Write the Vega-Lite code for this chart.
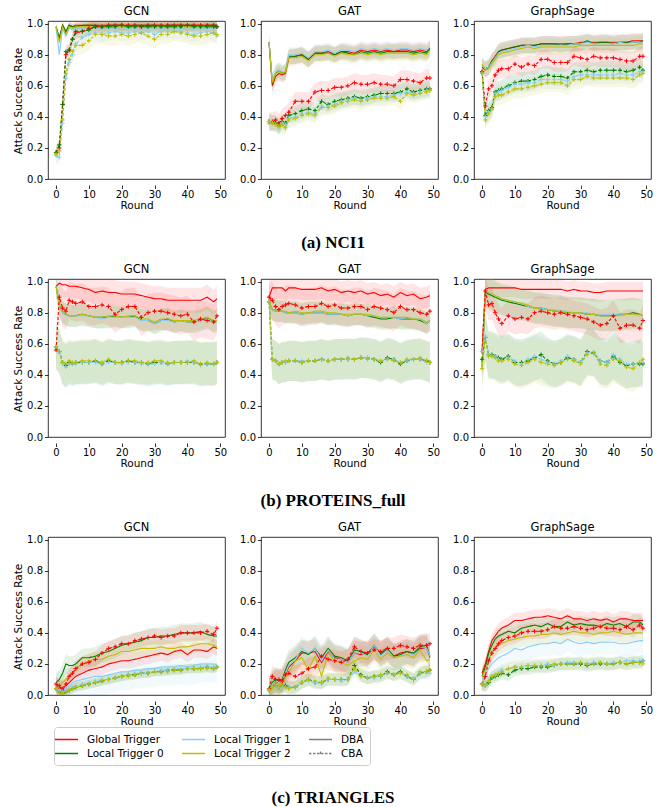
{
"$schema":"https://vega.github.io/schema/vega-lite/v6.json",
"background":"white",
"padding":{"left":13,"top":5,"right":5,"bottom":5},
"datasets":{
"xs":[{"i":1,"x":0},{"i":2,"x":1},{"i":3,"x":2},{"i":4,"x":3},{"i":5,"x":4},{"i":6,"x":5},{"i":7,"x":6},{"i":8,"x":8},{"i":9,"x":10},{"i":10,"x":12},{"i":11,"x":14},{"i":12,"x":16},{"i":13,"x":18},{"i":14,"x":20},{"i":15,"x":22},{"i":16,"x":24},{"i":17,"x":26},{"i":18,"x":28},{"i":19,"x":30},{"i":20,"x":32},{"i":21,"x":34},{"i":22,"x":36},{"i":23,"x":38},{"i":24,"x":40},{"i":25,"x":42},{"i":26,"x":44},{"i":27,"x":46},{"i":28,"x":48},{"i":29,"x":49}],
"L":[
{"d":"NCI1","m":"GCN","t":"Global Trigger","a":"DBA","e":0.02,"y":[0.98,0.90,0.99,0.94,0.99,0.98,0.99,0.99,0.99,0.99,0.99,0.99,0.99,0.99,0.99,0.99,0.99,0.99,0.99,0.99,0.99,0.99,0.99,0.99,0.99,0.99,0.99,0.99,0.99]},
{"d":"NCI1","m":"GCN","t":"Local Trigger 0","a":"DBA","e":0.02,"y":[0.98,0.91,0.99,0.95,0.99,0.98,0.98,0.99,0.99,0.99,0.98,0.99,0.99,0.99,0.98,0.99,0.99,0.99,0.99,0.98,0.99,0.99,0.99,0.99,0.99,0.98,0.99,0.99,0.99]},
{"d":"NCI1","m":"GCN","t":"Local Trigger 1","a":"DBA","e":0.03,"y":[0.97,0.80,0.97,0.92,0.97,0.96,0.97,0.97,0.97,0.97,0.96,0.97,0.97,0.96,0.97,0.97,0.96,0.97,0.97,0.97,0.96,0.97,0.97,0.96,0.97,0.97,0.97,0.97,0.97]},
{"d":"NCI1","m":"GCN","t":"Local Trigger 2","a":"DBA","e":0.03,"y":[0.98,0.88,0.98,0.93,0.98,0.97,0.98,0.98,0.98,0.98,0.98,0.98,0.98,0.98,0.98,0.98,0.98,0.98,0.98,0.98,0.98,0.98,0.98,0.98,0.98,0.98,0.98,0.98,0.98]},
{"d":"NCI1","m":"GCN","t":"Global Trigger","a":"CBA","e":0.04,"y":[0.17,0.20,0.48,0.80,0.83,0.90,0.94,0.95,0.97,0.98,0.98,0.99,0.99,0.99,0.99,0.99,0.98,0.99,0.99,0.99,0.99,0.99,0.99,0.99,0.99,0.99,0.99,0.99,0.98]},
{"d":"NCI1","m":"GCN","t":"Local Trigger 0","a":"CBA","e":0.04,"y":[0.17,0.22,0.48,0.82,0.83,0.90,0.95,0.95,0.96,0.98,0.98,0.98,0.98,0.99,0.98,0.98,0.98,0.98,0.98,0.98,0.98,0.98,0.98,0.99,0.98,0.98,0.98,0.98,0.98]},
{"d":"NCI1","m":"GCN","t":"Local Trigger 1","a":"CBA","e":0.05,"y":[0.15,0.14,0.36,0.65,0.75,0.80,0.87,0.91,0.93,0.94,0.93,0.94,0.95,0.94,0.94,0.95,0.94,0.95,0.93,0.95,0.95,0.95,0.95,0.94,0.93,0.94,0.95,0.94,0.92]},
{"d":"NCI1","m":"GCN","t":"Local Trigger 2","a":"CBA","e":0.06,"y":[0.16,0.18,0.38,0.68,0.77,0.82,0.86,0.86,0.89,0.93,0.93,0.92,0.92,0.93,0.92,0.93,0.94,0.92,0.90,0.93,0.93,0.95,0.94,0.93,0.92,0.92,0.93,0.94,0.93]},
{"d":"NCI1","m":"GAT","t":"Global Trigger","a":"DBA","e":0.05,"y":[0.88,0.60,0.66,0.68,0.67,0.68,0.78,0.79,0.80,0.77,0.81,0.81,0.82,0.80,0.82,0.82,0.81,0.83,0.82,0.83,0.82,0.83,0.82,0.83,0.83,0.82,0.83,0.82,0.84]},
{"d":"NCI1","m":"GAT","t":"Local Trigger 0","a":"DBA","e":0.05,"y":[0.88,0.62,0.68,0.70,0.68,0.69,0.79,0.79,0.80,0.77,0.81,0.81,0.81,0.80,0.82,0.81,0.80,0.82,0.81,0.82,0.81,0.82,0.82,0.82,0.82,0.81,0.82,0.81,0.84]},
{"d":"NCI1","m":"GAT","t":"Local Trigger 1","a":"DBA","e":0.05,"y":[0.88,0.63,0.69,0.70,0.69,0.69,0.80,0.80,0.81,0.78,0.82,0.82,0.83,0.81,0.83,0.83,0.82,0.84,0.83,0.84,0.83,0.84,0.83,0.84,0.84,0.83,0.84,0.83,0.85]},
{"d":"NCI1","m":"GAT","t":"Local Trigger 2","a":"DBA","e":0.05,"y":[0.88,0.62,0.68,0.69,0.68,0.69,0.78,0.78,0.79,0.76,0.80,0.80,0.81,0.79,0.81,0.80,0.80,0.81,0.80,0.81,0.80,0.81,0.81,0.81,0.81,0.80,0.81,0.80,0.83]},
{"d":"NCI1","m":"GAT","t":"Global Trigger","a":"CBA","e":0.06,"y":[0.37,0.37,0.38,0.36,0.39,0.41,0.43,0.50,0.50,0.50,0.56,0.57,0.57,0.59,0.59,0.60,0.62,0.61,0.61,0.62,0.61,0.61,0.60,0.64,0.64,0.63,0.62,0.65,0.65]},
{"d":"NCI1","m":"GAT","t":"Local Trigger 0","a":"CBA","e":0.05,"y":[0.37,0.36,0.36,0.34,0.37,0.36,0.41,0.42,0.44,0.45,0.44,0.50,0.48,0.50,0.51,0.52,0.53,0.52,0.53,0.54,0.55,0.55,0.55,0.56,0.58,0.56,0.57,0.58,0.58]},
{"d":"NCI1","m":"GAT","t":"Local Trigger 1","a":"CBA","e":0.05,"y":[0.37,0.36,0.35,0.33,0.36,0.35,0.39,0.40,0.42,0.43,0.42,0.47,0.47,0.48,0.50,0.51,0.52,0.51,0.52,0.53,0.53,0.53,0.54,0.55,0.56,0.55,0.56,0.57,0.57]},
{"d":"NCI1","m":"GAT","t":"Local Trigger 2","a":"CBA","e":0.05,"y":[0.36,0.36,0.35,0.34,0.35,0.33,0.38,0.39,0.41,0.42,0.41,0.46,0.46,0.47,0.49,0.50,0.51,0.50,0.51,0.52,0.52,0.52,0.53,0.50,0.55,0.54,0.55,0.56,0.57]},
{"d":"NCI1","m":"GraphSage","t":"Global Trigger","a":"DBA","e":0.05,"y":[0.72,0.70,0.72,0.76,0.79,0.82,0.83,0.84,0.85,0.86,0.86,0.86,0.87,0.87,0.87,0.87,0.87,0.87,0.88,0.88,0.88,0.88,0.88,0.88,0.88,0.88,0.89,0.89,0.89]},
{"d":"NCI1","m":"GraphSage","t":"Local Trigger 0","a":"DBA","e":0.05,"y":[0.73,0.71,0.72,0.76,0.78,0.82,0.83,0.84,0.85,0.86,0.86,0.86,0.87,0.87,0.87,0.86,0.87,0.87,0.87,0.89,0.87,0.88,0.88,0.87,0.88,0.88,0.88,0.88,0.89]},
{"d":"NCI1","m":"GraphSage","t":"Local Trigger 1","a":"DBA","e":0.05,"y":[0.73,0.71,0.72,0.75,0.78,0.81,0.82,0.83,0.84,0.85,0.86,0.85,0.86,0.86,0.86,0.86,0.86,0.87,0.87,0.88,0.87,0.87,0.87,0.87,0.88,0.87,0.88,0.88,0.88]},
{"d":"NCI1","m":"GraphSage","t":"Local Trigger 2","a":"DBA","e":0.05,"y":[0.74,0.70,0.71,0.74,0.77,0.80,0.81,0.82,0.83,0.84,0.85,0.84,0.85,0.85,0.85,0.85,0.85,0.85,0.86,0.86,0.86,0.86,0.86,0.86,0.86,0.86,0.86,0.87,0.87]},
{"d":"NCI1","m":"GraphSage","t":"Global Trigger","a":"CBA","e":0.06,"y":[0.69,0.47,0.58,0.60,0.67,0.70,0.71,0.71,0.74,0.72,0.74,0.73,0.77,0.77,0.75,0.75,0.75,0.79,0.78,0.77,0.79,0.78,0.78,0.78,0.77,0.76,0.76,0.79,0.79]},
{"d":"NCI1","m":"GraphSage","t":"Local Trigger 0","a":"CBA","e":0.06,"y":[0.69,0.41,0.44,0.46,0.56,0.57,0.58,0.60,0.62,0.63,0.63,0.64,0.66,0.67,0.66,0.66,0.65,0.69,0.69,0.70,0.69,0.70,0.70,0.70,0.70,0.69,0.70,0.72,0.70]},
{"d":"NCI1","m":"GraphSage","t":"Local Trigger 1","a":"CBA","e":0.06,"y":[0.68,0.40,0.43,0.45,0.55,0.56,0.57,0.59,0.61,0.61,0.62,0.62,0.64,0.64,0.64,0.64,0.63,0.66,0.67,0.67,0.67,0.67,0.67,0.67,0.68,0.67,0.67,0.69,0.69]},
{"d":"NCI1","m":"GraphSage","t":"Local Trigger 2","a":"CBA","e":0.06,"y":[0.68,0.38,0.42,0.45,0.53,0.54,0.54,0.56,0.58,0.58,0.59,0.60,0.61,0.62,0.62,0.62,0.60,0.64,0.64,0.66,0.65,0.65,0.65,0.65,0.65,0.65,0.64,0.67,0.68]},
{"d":"PROTEINS","m":"GCN","t":"Global Trigger","a":"DBA","e":0.08,"y":[0.97,0.99,0.98,0.98,0.97,0.97,0.97,0.96,0.95,0.93,0.94,0.93,0.93,0.92,0.92,0.92,0.91,0.90,0.89,0.89,0.88,0.88,0.88,0.88,0.88,0.88,0.90,0.87,0.89]},
{"d":"PROTEINS","m":"GCN","t":"Local Trigger 0","a":"DBA","e":0.07,"y":[0.97,0.85,0.80,0.79,0.78,0.78,0.78,0.79,0.78,0.77,0.77,0.77,0.78,0.77,0.77,0.78,0.75,0.75,0.73,0.75,0.76,0.74,0.75,0.74,0.74,0.75,0.77,0.74,0.75]},
{"d":"PROTEINS","m":"GCN","t":"Local Trigger 1","a":"DBA","e":0.07,"y":[0.97,0.85,0.80,0.78,0.78,0.78,0.78,0.78,0.78,0.77,0.76,0.77,0.77,0.77,0.77,0.77,0.75,0.75,0.73,0.75,0.75,0.74,0.75,0.74,0.74,0.75,0.76,0.74,0.74]},
{"d":"PROTEINS","m":"GCN","t":"Local Trigger 2","a":"DBA","e":0.07,"y":[0.97,0.86,0.81,0.79,0.78,0.78,0.78,0.79,0.78,0.77,0.77,0.78,0.78,0.77,0.78,0.78,0.76,0.76,0.74,0.76,0.76,0.75,0.75,0.75,0.75,0.76,0.77,0.75,0.75]},
{"d":"PROTEINS","m":"GCN","t":"Global Trigger","a":"CBA","e":0.12,"y":[0.56,0.90,0.83,0.81,0.88,0.87,0.86,0.87,0.84,0.84,0.85,0.84,0.79,0.82,0.84,0.84,0.77,0.80,0.81,0.81,0.80,0.79,0.78,0.79,0.74,0.76,0.75,0.74,0.78]},
{"d":"PROTEINS","m":"GCN","t":"Local Trigger 0","a":"CBA","e":0.14,"y":[0.58,0.55,0.48,0.46,0.48,0.47,0.48,0.48,0.48,0.49,0.47,0.49,0.48,0.48,0.49,0.48,0.48,0.47,0.48,0.48,0.47,0.48,0.48,0.48,0.48,0.47,0.47,0.47,0.48]},
{"d":"PROTEINS","m":"GCN","t":"Local Trigger 1","a":"CBA","e":0.14,"y":[0.58,0.54,0.47,0.45,0.47,0.47,0.47,0.48,0.48,0.48,0.47,0.48,0.48,0.47,0.48,0.48,0.47,0.47,0.47,0.48,0.47,0.48,0.48,0.49,0.48,0.46,0.47,0.47,0.48]},
{"d":"PROTEINS","m":"GCN","t":"Local Trigger 2","a":"CBA","e":0.14,"y":[0.58,0.55,0.48,0.47,0.49,0.48,0.48,0.49,0.49,0.49,0.48,0.50,0.48,0.48,0.49,0.49,0.48,0.48,0.49,0.49,0.48,0.48,0.48,0.48,0.49,0.47,0.48,0.47,0.48]},
{"d":"PROTEINS","m":"GAT","t":"Global Trigger","a":"DBA","e":0.07,"y":[0.90,0.96,0.96,0.96,0.96,0.94,0.96,0.96,0.95,0.95,0.95,0.96,0.94,0.95,0.93,0.94,0.93,0.94,0.92,0.93,0.91,0.92,0.90,0.93,0.91,0.92,0.89,0.90,0.91]},
{"d":"PROTEINS","m":"GAT","t":"Local Trigger 0","a":"DBA","e":0.07,"y":[0.87,0.82,0.81,0.81,0.81,0.80,0.80,0.80,0.79,0.80,0.80,0.80,0.79,0.79,0.79,0.78,0.79,0.79,0.78,0.77,0.76,0.76,0.77,0.76,0.76,0.76,0.75,0.73,0.75]},
{"d":"PROTEINS","m":"GAT","t":"Local Trigger 1","a":"DBA","e":0.07,"y":[0.87,0.82,0.81,0.81,0.81,0.80,0.80,0.80,0.79,0.80,0.80,0.80,0.79,0.79,0.79,0.78,0.79,0.79,0.78,0.78,0.77,0.77,0.77,0.76,0.77,0.76,0.76,0.73,0.75]},
{"d":"PROTEINS","m":"GAT","t":"Local Trigger 2","a":"DBA","e":0.07,"y":[0.87,0.82,0.82,0.81,0.81,0.81,0.80,0.81,0.80,0.80,0.81,0.81,0.80,0.80,0.79,0.79,0.79,0.79,0.79,0.78,0.77,0.77,0.77,0.77,0.77,0.76,0.76,0.74,0.75]},
{"d":"PROTEINS","m":"GAT","t":"Global Trigger","a":"CBA","e":0.12,"y":[0.90,0.88,0.84,0.82,0.84,0.85,0.86,0.85,0.83,0.84,0.84,0.86,0.84,0.85,0.83,0.83,0.84,0.84,0.82,0.84,0.83,0.82,0.80,0.84,0.82,0.82,0.80,0.79,0.81]},
{"d":"PROTEINS","m":"GAT","t":"Local Trigger 0","a":"CBA","e":0.13,"y":[0.87,0.50,0.49,0.47,0.48,0.48,0.49,0.49,0.48,0.49,0.49,0.50,0.49,0.50,0.50,0.50,0.50,0.51,0.51,0.50,0.48,0.51,0.50,0.47,0.49,0.50,0.50,0.49,0.48]},
{"d":"PROTEINS","m":"GAT","t":"Local Trigger 1","a":"CBA","e":0.13,"y":[0.87,0.50,0.49,0.47,0.48,0.48,0.49,0.49,0.49,0.49,0.49,0.50,0.49,0.50,0.50,0.50,0.50,0.51,0.51,0.50,0.49,0.50,0.50,0.48,0.49,0.50,0.50,0.48,0.48]},
{"d":"PROTEINS","m":"GAT","t":"Local Trigger 2","a":"CBA","e":0.13,"y":[0.87,0.50,0.49,0.47,0.48,0.49,0.49,0.49,0.48,0.49,0.49,0.50,0.49,0.50,0.50,0.51,0.50,0.51,0.50,0.50,0.49,0.50,0.49,0.48,0.50,0.50,0.51,0.49,0.48]},
{"d":"PROTEINS","m":"GraphSage","t":"Global Trigger","a":"DBA","e":0.06,"y":[0.55,0.95,0.96,0.96,0.96,0.96,0.96,0.96,0.96,0.95,0.95,0.95,0.95,0.95,0.95,0.95,0.94,0.95,0.94,0.94,0.93,0.93,0.94,0.94,0.94,0.94,0.94,0.94,0.94]},
{"d":"PROTEINS","m":"GraphSage","t":"Local Trigger 0","a":"DBA","e":0.1,"y":[0.45,0.93,0.92,0.91,0.90,0.89,0.88,0.87,0.86,0.85,0.84,0.83,0.83,0.82,0.81,0.81,0.80,0.80,0.80,0.79,0.79,0.78,0.78,0.78,0.79,0.79,0.80,0.79,0.78]},
{"d":"PROTEINS","m":"GraphSage","t":"Local Trigger 1","a":"DBA","e":0.1,"y":[0.45,0.94,0.93,0.92,0.91,0.90,0.89,0.88,0.87,0.86,0.84,0.83,0.83,0.82,0.82,0.81,0.81,0.80,0.80,0.80,0.79,0.79,0.79,0.79,0.79,0.79,0.79,0.78,0.78]},
{"d":"PROTEINS","m":"GraphSage","t":"Local Trigger 2","a":"DBA","e":0.1,"y":[0.45,0.94,0.93,0.92,0.91,0.90,0.89,0.88,0.87,0.86,0.85,0.83,0.82,0.82,0.81,0.81,0.80,0.80,0.80,0.79,0.79,0.78,0.78,0.78,0.78,0.79,0.79,0.79,0.78]},
{"d":"PROTEINS","m":"GraphSage","t":"Global Trigger","a":"CBA","e":0.1,"y":[0.55,0.94,0.85,0.86,0.80,0.76,0.73,0.78,0.76,0.77,0.76,0.80,0.81,0.80,0.79,0.80,0.79,0.78,0.77,0.76,0.74,0.72,0.73,0.78,0.70,0.72,0.72,0.70,0.75]},
{"d":"PROTEINS","m":"GraphSage","t":"Local Trigger 0","a":"CBA","e":0.15,"y":[0.50,0.64,0.53,0.53,0.52,0.51,0.50,0.52,0.48,0.48,0.49,0.51,0.53,0.49,0.47,0.48,0.51,0.50,0.48,0.55,0.54,0.49,0.48,0.52,0.48,0.46,0.47,0.47,0.47]},
{"d":"PROTEINS","m":"GraphSage","t":"Local Trigger 1","a":"CBA","e":0.15,"y":[0.55,0.65,0.53,0.52,0.52,0.50,0.49,0.51,0.49,0.47,0.50,0.52,0.50,0.48,0.47,0.49,0.52,0.50,0.48,0.54,0.55,0.49,0.48,0.53,0.50,0.47,0.47,0.48,0.48]},
{"d":"PROTEINS","m":"GraphSage","t":"Local Trigger 2","a":"CBA","e":0.15,"y":[0.44,0.64,0.52,0.52,0.51,0.49,0.49,0.50,0.47,0.46,0.48,0.50,0.48,0.47,0.46,0.48,0.50,0.49,0.47,0.53,0.54,0.47,0.46,0.50,0.49,0.45,0.44,0.48,0.50]},
{"d":"TRIANGLES","m":"GCN","t":"Global Trigger","a":"DBA","e":0.05,"y":[0.06,0.04,0.05,0.06,0.08,0.10,0.12,0.14,0.16,0.17,0.18,0.20,0.21,0.22,0.22,0.23,0.24,0.25,0.26,0.27,0.26,0.28,0.29,0.26,0.29,0.29,0.28,0.31,0.30]},
{"d":"TRIANGLES","m":"GCN","t":"Local Trigger 0","a":"DBA","e":0.06,"y":[0.08,0.10,0.14,0.20,0.19,0.19,0.20,0.24,0.24,0.25,0.27,0.28,0.30,0.32,0.33,0.34,0.35,0.37,0.37,0.38,0.38,0.39,0.40,0.40,0.40,0.41,0.39,0.38,0.38]},
{"d":"TRIANGLES","m":"GCN","t":"Local Trigger 1","a":"DBA","e":0.12,"y":[0.04,0.03,0.04,0.05,0.06,0.08,0.09,0.10,0.11,0.12,0.12,0.13,0.14,0.15,0.15,0.16,0.16,0.17,0.17,0.18,0.18,0.18,0.19,0.18,0.19,0.20,0.20,0.20,0.19]},
{"d":"TRIANGLES","m":"GCN","t":"Local Trigger 2","a":"DBA","e":0.05,"y":[0.05,0.05,0.08,0.10,0.12,0.14,0.17,0.20,0.22,0.23,0.23,0.25,0.26,0.28,0.28,0.29,0.30,0.30,0.30,0.31,0.30,0.30,0.31,0.31,0.32,0.33,0.33,0.32,0.31]},
{"d":"TRIANGLES","m":"GCN","t":"Global Trigger","a":"CBA","e":0.05,"y":[0.07,0.06,0.03,0.07,0.12,0.14,0.17,0.20,0.21,0.23,0.27,0.30,0.31,0.33,0.33,0.35,0.36,0.37,0.38,0.37,0.38,0.38,0.40,0.40,0.40,0.40,0.41,0.39,0.43]},
{"d":"TRIANGLES","m":"GCN","t":"Local Trigger 0","a":"CBA","e":0.03,"y":[0.04,0.02,0.01,0.02,0.03,0.04,0.05,0.06,0.07,0.08,0.09,0.10,0.11,0.12,0.13,0.13,0.14,0.14,0.15,0.15,0.16,0.16,0.16,0.17,0.17,0.17,0.18,0.17,0.18]},
{"d":"TRIANGLES","m":"GCN","t":"Local Trigger 1","a":"CBA","e":0.03,"y":[0.04,0.03,0.02,0.03,0.04,0.05,0.06,0.07,0.08,0.09,0.10,0.10,0.11,0.12,0.13,0.14,0.14,0.15,0.15,0.16,0.16,0.17,0.17,0.17,0.18,0.18,0.18,0.18,0.18]},
{"d":"TRIANGLES","m":"GCN","t":"Local Trigger 2","a":"CBA","e":0.03,"y":[0.04,0.02,0.01,0.02,0.03,0.04,0.05,0.06,0.07,0.08,0.09,0.10,0.11,0.12,0.12,0.13,0.14,0.14,0.15,0.15,0.15,0.16,0.16,0.17,0.17,0.17,0.17,0.17,0.18]},
{"d":"TRIANGLES","m":"GAT","t":"Global Trigger","a":"DBA","e":0.08,"y":[0.03,0.06,0.08,0.08,0.09,0.13,0.18,0.22,0.27,0.27,0.28,0.21,0.28,0.24,0.23,0.21,0.27,0.26,0.27,0.31,0.27,0.29,0.25,0.27,0.28,0.26,0.30,0.30,0.25]},
{"d":"TRIANGLES","m":"GAT","t":"Local Trigger 0","a":"DBA","e":0.08,"y":[0.03,0.08,0.10,0.09,0.10,0.16,0.21,0.24,0.28,0.26,0.30,0.24,0.30,0.25,0.24,0.22,0.29,0.28,0.26,0.32,0.26,0.30,0.25,0.26,0.28,0.27,0.31,0.32,0.24]},
{"d":"TRIANGLES","m":"GAT","t":"Local Trigger 1","a":"DBA","e":0.08,"y":[0.03,0.07,0.09,0.08,0.09,0.14,0.19,0.23,0.30,0.27,0.30,0.22,0.29,0.23,0.23,0.21,0.27,0.27,0.25,0.32,0.25,0.29,0.24,0.25,0.27,0.26,0.29,0.30,0.25]},
{"d":"TRIANGLES","m":"GAT","t":"Local Trigger 2","a":"DBA","e":0.08,"y":[0.03,0.06,0.08,0.07,0.07,0.11,0.14,0.22,0.24,0.16,0.25,0.12,0.27,0.22,0.21,0.19,0.22,0.24,0.23,0.29,0.23,0.27,0.24,0.25,0.26,0.24,0.29,0.22,0.23]},
{"d":"TRIANGLES","m":"GAT","t":"Global Trigger","a":"CBA","e":0.07,"y":[0.04,0.12,0.10,0.10,0.09,0.13,0.14,0.12,0.14,0.17,0.18,0.25,0.23,0.22,0.21,0.23,0.31,0.28,0.27,0.29,0.28,0.30,0.30,0.32,0.31,0.30,0.32,0.32,0.33]},
{"d":"TRIANGLES","m":"GAT","t":"Local Trigger 0","a":"CBA","e":0.04,"y":[0.03,0.05,0.06,0.05,0.06,0.06,0.05,0.05,0.08,0.10,0.08,0.08,0.10,0.10,0.10,0.10,0.19,0.13,0.11,0.12,0.12,0.15,0.13,0.15,0.12,0.10,0.14,0.15,0.16]},
{"d":"TRIANGLES","m":"GAT","t":"Local Trigger 1","a":"CBA","e":0.04,"y":[0.03,0.05,0.05,0.05,0.05,0.05,0.05,0.05,0.08,0.09,0.08,0.07,0.10,0.10,0.09,0.10,0.15,0.12,0.11,0.11,0.12,0.14,0.13,0.14,0.12,0.11,0.14,0.14,0.14]},
{"d":"TRIANGLES","m":"GAT","t":"Local Trigger 2","a":"CBA","e":0.04,"y":[0.03,0.05,0.06,0.05,0.06,0.05,0.04,0.05,0.08,0.10,0.09,0.08,0.11,0.10,0.10,0.10,0.17,0.12,0.11,0.12,0.13,0.14,0.13,0.14,0.13,0.10,0.15,0.15,0.16]},
{"d":"TRIANGLES","m":"GraphSage","t":"Global Trigger","a":"DBA","e":0.05,"y":[0.14,0.20,0.28,0.35,0.38,0.41,0.43,0.45,0.48,0.48,0.49,0.50,0.50,0.51,0.50,0.49,0.51,0.49,0.49,0.48,0.49,0.48,0.49,0.47,0.49,0.49,0.48,0.48,0.48]},
{"d":"TRIANGLES","m":"GraphSage","t":"Local Trigger 0","a":"DBA","e":0.05,"y":[0.12,0.18,0.27,0.32,0.36,0.38,0.39,0.41,0.40,0.43,0.44,0.45,0.44,0.46,0.44,0.44,0.47,0.45,0.46,0.45,0.45,0.44,0.46,0.45,0.46,0.44,0.47,0.47,0.45]},
{"d":"TRIANGLES","m":"GraphSage","t":"Local Trigger 1","a":"DBA","e":0.08,"y":[0.10,0.13,0.17,0.20,0.22,0.24,0.25,0.27,0.30,0.29,0.31,0.32,0.33,0.33,0.34,0.33,0.36,0.34,0.33,0.34,0.33,0.34,0.34,0.34,0.33,0.33,0.34,0.35,0.35]},
{"d":"TRIANGLES","m":"GraphSage","t":"Local Trigger 2","a":"DBA","e":0.06,"y":[0.12,0.16,0.22,0.28,0.30,0.32,0.33,0.35,0.36,0.37,0.38,0.38,0.39,0.39,0.40,0.39,0.40,0.41,0.40,0.40,0.39,0.40,0.40,0.41,0.40,0.39,0.40,0.40,0.40]},
{"d":"TRIANGLES","m":"GraphSage","t":"Global Trigger","a":"CBA","e":0.05,"y":[0.07,0.12,0.22,0.27,0.30,0.33,0.35,0.37,0.38,0.40,0.41,0.41,0.41,0.42,0.44,0.43,0.43,0.44,0.43,0.42,0.43,0.44,0.43,0.43,0.42,0.44,0.42,0.45,0.43]},
{"d":"TRIANGLES","m":"GraphSage","t":"Local Trigger 0","a":"CBA","e":0.04,"y":[0.07,0.06,0.08,0.11,0.12,0.13,0.14,0.13,0.16,0.17,0.17,0.18,0.18,0.18,0.19,0.20,0.20,0.20,0.20,0.19,0.20,0.20,0.20,0.20,0.21,0.20,0.21,0.21,0.22]},
{"d":"TRIANGLES","m":"GraphSage","t":"Local Trigger 1","a":"CBA","e":0.04,"y":[0.07,0.06,0.09,0.12,0.13,0.14,0.16,0.17,0.18,0.18,0.19,0.19,0.19,0.20,0.19,0.20,0.21,0.21,0.21,0.20,0.21,0.21,0.20,0.21,0.21,0.22,0.22,0.22,0.22]},
{"d":"TRIANGLES","m":"GraphSage","t":"Local Trigger 2","a":"CBA","e":0.04,"y":[0.07,0.06,0.09,0.12,0.13,0.14,0.15,0.17,0.18,0.18,0.19,0.19,0.19,0.19,0.20,0.20,0.20,0.20,0.21,0.20,0.20,0.21,0.20,0.20,0.21,0.20,0.21,0.21,0.20]}
]},
"data":{"name":"L"},
"transform":[
{"flatten":["y"]},
{"window":[{"op":"row_number","as":"i"}],"groupby":["d","m","t","a"]},
{"lookup":"i","from":{"data":{"name":"xs"},"key":"i","fields":["x"]}},
{"calculate":"datum.y-datum.e","as":"lo"},
{"calculate":"datum.y+datum.e","as":"hi"}
],
"spacing":12,
"vconcat":[
{"transform":[{"filter":"datum.d==='NCI1'"}],
"title":{"text":"(a) NCI1","orient":"bottom","offset":24},
"facet":{"row":{"field":"d","type":"nominal","title":"Attack Success Rate","header":{"labels":false,"labelPadding":0,"titlePadding":-8}},"column":{"field":"m","type":"nominal","sort":["GCN","GAT","GraphSage"],"title":null}},
"spacing":{"column":13,"row":0},
"resolve":{"axis":{"y":"independent"}},
"spec":{"width":177,"height":158,"layer":[
{"mark":{"type":"area","opacity":0.1,"clip":true},"encoding":{"x":{"field":"x","type":"quantitative","scale":{"domain":[-2.45,51.45],"nice":false,"zero":false},"axis":{"values":[0,10,20,30,40,50],"title":"Round"}},"y":{"field":"lo","type":"quantitative","stack":null,"scale":{"domain":[0,1.017],"nice":false,"zero":false},"axis":{"values":[0,0.2,0.4,0.6,0.8,1],"format":".1f","title":null}},"y2":{"field":"hi"},"color":{"field":"t","type":"nominal","legend":{"orient":"none","legendX":6,"legendY":706,"columns":3,"title":null,"symbolType":"stroke","symbolSize":120,"symbolStrokeWidth":1.3,"symbolOpacity":1,"labelFontSize":10.5,"labelFont":"DejaVu Sans","labelColor":"#000","labelOffset":14,"columnPadding":15,"rowPadding":2,"padding":6,"strokeColor":"#cccccc","fillColor":"#ffffff","cornerRadius":3,"encode":{"symbols":{"update":{"shape":{"signal":"datum.value==='CBA'?'M-2.1,0H2.1M0,-0.35V0.35':'M-2.1,0H2.1'"},"strokeDash":{"signal":"datum.value==='CBA'?[2.5,1.5]:[1,0]"}}}}}},"detail":{"field":"a"}}},
{"mark":{"type":"line","strokeWidth":1.1,"clip":true},"encoding":{"x":{"field":"x","type":"quantitative","axis":{"values":[0,10,20,30,40,50],"title":"Round"}},"y":{"field":"y","type":"quantitative","axis":{"values":[0,0.2,0.4,0.6,0.8,1],"format":".1f","title":null}},"strokeDash":{"field":"a","type":"nominal","scale":{"domain":["DBA","CBA"],"range":[[1,0],[3,2]]},"legend":null},"color":{"field":"t","type":"nominal","scale":{"domain":["Global Trigger","Local Trigger 0","Local Trigger 1","Local Trigger 2","DBA","CBA"],"range":["#ff0000","#008000","#87cefa","#bfbf00","#808080","#808080"]},"legend":{"orient":"none","legendX":6,"legendY":706,"columns":3,"title":null,"symbolType":"stroke","symbolSize":120,"symbolStrokeWidth":1.3,"symbolOpacity":1,"labelFontSize":10.5,"labelFont":"DejaVu Sans","labelColor":"#000","labelOffset":14,"columnPadding":15,"rowPadding":2,"padding":6,"strokeColor":"#cccccc","fillColor":"#ffffff","cornerRadius":3,"encode":{"symbols":{"update":{"shape":{"signal":"datum.value==='CBA'?'M-2.1,0H2.1M0,-0.35V0.35':'M-2.1,0H2.1'"},"strokeDash":{"signal":"datum.value==='CBA'?[2.5,1.5]:[1,0]"}}}}}}}},
{"transform":[{"filter":"datum.a==='CBA'"}],"mark":{"type":"point","shape":"M-1,0H1M0,-1V1","filled":false,"size":18,"strokeWidth":1,"opacity":1,"clip":true},"encoding":{"x":{"field":"x","type":"quantitative","axis":{"values":[0,10,20,30,40,50],"title":"Round"}},"y":{"field":"y","type":"quantitative","axis":{"values":[0,0.2,0.4,0.6,0.8,1],"format":".1f","title":null}},"color":{"field":"t","type":"nominal","legend":{"orient":"none","legendX":6,"legendY":706,"columns":3,"title":null,"symbolType":"stroke","symbolSize":120,"symbolStrokeWidth":1.3,"symbolOpacity":1,"labelFontSize":10.5,"labelFont":"DejaVu Sans","labelColor":"#000","labelOffset":14,"columnPadding":15,"rowPadding":2,"padding":6,"strokeColor":"#cccccc","fillColor":"#ffffff","cornerRadius":3,"encode":{"symbols":{"update":{"shape":{"signal":"datum.value==='CBA'?'M-2.1,0H2.1M0,-0.35V0.35':'M-2.1,0H2.1'"},"strokeDash":{"signal":"datum.value==='CBA'?[2.5,1.5]:[1,0]"}}}}}}}}
]}},
{"transform":[{"filter":"datum.d==='PROTEINS'"}],
"title":{"text":"(b) PROTEINS_full","orient":"bottom","offset":24},
"facet":{"row":{"field":"d","type":"nominal","title":"Attack Success Rate","header":{"labels":false,"labelPadding":0,"titlePadding":-8}},"column":{"field":"m","type":"nominal","sort":["GCN","GAT","GraphSage"],"title":null}},
"spacing":{"column":13,"row":0},
"resolve":{"axis":{"y":"independent"}},
"spec":{"width":177,"height":158,"layer":[
{"mark":{"type":"area","opacity":0.1,"clip":true},"encoding":{"x":{"field":"x","type":"quantitative","scale":{"domain":[-2.45,51.45],"nice":false,"zero":false},"axis":{"values":[0,10,20,30,40,50],"title":"Round"}},"y":{"field":"lo","type":"quantitative","stack":null,"scale":{"domain":[0,1.017],"nice":false,"zero":false},"axis":{"values":[0,0.2,0.4,0.6,0.8,1],"format":".1f","title":null}},"y2":{"field":"hi"},"color":{"field":"t","type":"nominal","legend":{"orient":"none","legendX":6,"legendY":706,"columns":3,"title":null,"symbolType":"stroke","symbolSize":120,"symbolStrokeWidth":1.3,"symbolOpacity":1,"labelFontSize":10.5,"labelFont":"DejaVu Sans","labelColor":"#000","labelOffset":14,"columnPadding":15,"rowPadding":2,"padding":6,"strokeColor":"#cccccc","fillColor":"#ffffff","cornerRadius":3,"encode":{"symbols":{"update":{"shape":{"signal":"datum.value==='CBA'?'M-2.1,0H2.1M0,-0.35V0.35':'M-2.1,0H2.1'"},"strokeDash":{"signal":"datum.value==='CBA'?[2.5,1.5]:[1,0]"}}}}}},"detail":{"field":"a"}}},
{"mark":{"type":"line","strokeWidth":1.1,"clip":true},"encoding":{"x":{"field":"x","type":"quantitative","axis":{"values":[0,10,20,30,40,50],"title":"Round"}},"y":{"field":"y","type":"quantitative","axis":{"values":[0,0.2,0.4,0.6,0.8,1],"format":".1f","title":null}},"strokeDash":{"field":"a","type":"nominal","scale":{"domain":["DBA","CBA"],"range":[[1,0],[3,2]]},"legend":null},"color":{"field":"t","type":"nominal","scale":{"domain":["Global Trigger","Local Trigger 0","Local Trigger 1","Local Trigger 2","DBA","CBA"],"range":["#ff0000","#008000","#87cefa","#bfbf00","#808080","#808080"]},"legend":{"orient":"none","legendX":6,"legendY":706,"columns":3,"title":null,"symbolType":"stroke","symbolSize":120,"symbolStrokeWidth":1.3,"symbolOpacity":1,"labelFontSize":10.5,"labelFont":"DejaVu Sans","labelColor":"#000","labelOffset":14,"columnPadding":15,"rowPadding":2,"padding":6,"strokeColor":"#cccccc","fillColor":"#ffffff","cornerRadius":3,"encode":{"symbols":{"update":{"shape":{"signal":"datum.value==='CBA'?'M-2.1,0H2.1M0,-0.35V0.35':'M-2.1,0H2.1'"},"strokeDash":{"signal":"datum.value==='CBA'?[2.5,1.5]:[1,0]"}}}}}}}},
{"transform":[{"filter":"datum.a==='CBA'"}],"mark":{"type":"point","shape":"M-1,0H1M0,-1V1","filled":false,"size":18,"strokeWidth":1,"opacity":1,"clip":true},"encoding":{"x":{"field":"x","type":"quantitative","axis":{"values":[0,10,20,30,40,50],"title":"Round"}},"y":{"field":"y","type":"quantitative","axis":{"values":[0,0.2,0.4,0.6,0.8,1],"format":".1f","title":null}},"color":{"field":"t","type":"nominal","legend":{"orient":"none","legendX":6,"legendY":706,"columns":3,"title":null,"symbolType":"stroke","symbolSize":120,"symbolStrokeWidth":1.3,"symbolOpacity":1,"labelFontSize":10.5,"labelFont":"DejaVu Sans","labelColor":"#000","labelOffset":14,"columnPadding":15,"rowPadding":2,"padding":6,"strokeColor":"#cccccc","fillColor":"#ffffff","cornerRadius":3,"encode":{"symbols":{"update":{"shape":{"signal":"datum.value==='CBA'?'M-2.1,0H2.1M0,-0.35V0.35':'M-2.1,0H2.1'"},"strokeDash":{"signal":"datum.value==='CBA'?[2.5,1.5]:[1,0]"}}}}}}}}
]}},
{"transform":[{"filter":"datum.d==='TRIANGLES'"}],
"title":{"text":"(c) TRIANGLES","orient":"bottom","offset":63},
"facet":{"row":{"field":"d","type":"nominal","title":"Attack Success Rate","header":{"labels":false,"labelPadding":0,"titlePadding":-8}},"column":{"field":"m","type":"nominal","sort":["GCN","GAT","GraphSage"],"title":null}},
"spacing":{"column":13,"row":0},
"resolve":{"axis":{"y":"independent"}},
"spec":{"width":177,"height":158,"layer":[
{"mark":{"type":"area","opacity":0.1,"clip":true},"encoding":{"x":{"field":"x","type":"quantitative","scale":{"domain":[-2.45,51.45],"nice":false,"zero":false},"axis":{"values":[0,10,20,30,40,50],"title":"Round"}},"y":{"field":"lo","type":"quantitative","stack":null,"scale":{"domain":[0,1.017],"nice":false,"zero":false},"axis":{"values":[0,0.2,0.4,0.6,0.8,1],"format":".1f","title":null}},"y2":{"field":"hi"},"color":{"field":"t","type":"nominal","legend":{"orient":"none","legendX":6,"legendY":706,"columns":3,"title":null,"symbolType":"stroke","symbolSize":120,"symbolStrokeWidth":1.3,"symbolOpacity":1,"labelFontSize":10.5,"labelFont":"DejaVu Sans","labelColor":"#000","labelOffset":14,"columnPadding":15,"rowPadding":2,"padding":6,"strokeColor":"#cccccc","fillColor":"#ffffff","cornerRadius":3,"encode":{"symbols":{"update":{"shape":{"signal":"datum.value==='CBA'?'M-2.1,0H2.1M0,-0.35V0.35':'M-2.1,0H2.1'"},"strokeDash":{"signal":"datum.value==='CBA'?[2.5,1.5]:[1,0]"}}}}}},"detail":{"field":"a"}}},
{"mark":{"type":"line","strokeWidth":1.1,"clip":true},"encoding":{"x":{"field":"x","type":"quantitative","axis":{"values":[0,10,20,30,40,50],"title":"Round"}},"y":{"field":"y","type":"quantitative","axis":{"values":[0,0.2,0.4,0.6,0.8,1],"format":".1f","title":null}},"strokeDash":{"field":"a","type":"nominal","scale":{"domain":["DBA","CBA"],"range":[[1,0],[3,2]]},"legend":null},"color":{"field":"t","type":"nominal","scale":{"domain":["Global Trigger","Local Trigger 0","Local Trigger 1","Local Trigger 2","DBA","CBA"],"range":["#ff0000","#008000","#87cefa","#bfbf00","#808080","#808080"]},"legend":{"orient":"none","legendX":6,"legendY":706,"columns":3,"title":null,"symbolType":"stroke","symbolSize":120,"symbolStrokeWidth":1.3,"symbolOpacity":1,"labelFontSize":10.5,"labelFont":"DejaVu Sans","labelColor":"#000","labelOffset":14,"columnPadding":15,"rowPadding":2,"padding":6,"strokeColor":"#cccccc","fillColor":"#ffffff","cornerRadius":3,"encode":{"symbols":{"update":{"shape":{"signal":"datum.value==='CBA'?'M-2.1,0H2.1M0,-0.35V0.35':'M-2.1,0H2.1'"},"strokeDash":{"signal":"datum.value==='CBA'?[2.5,1.5]:[1,0]"}}}}}}}},
{"transform":[{"filter":"datum.a==='CBA'"}],"mark":{"type":"point","shape":"M-1,0H1M0,-1V1","filled":false,"size":18,"strokeWidth":1,"opacity":1,"clip":true},"encoding":{"x":{"field":"x","type":"quantitative","axis":{"values":[0,10,20,30,40,50],"title":"Round"}},"y":{"field":"y","type":"quantitative","axis":{"values":[0,0.2,0.4,0.6,0.8,1],"format":".1f","title":null}},"color":{"field":"t","type":"nominal","legend":{"orient":"none","legendX":6,"legendY":706,"columns":3,"title":null,"symbolType":"stroke","symbolSize":120,"symbolStrokeWidth":1.3,"symbolOpacity":1,"labelFontSize":10.5,"labelFont":"DejaVu Sans","labelColor":"#000","labelOffset":14,"columnPadding":15,"rowPadding":2,"padding":6,"strokeColor":"#cccccc","fillColor":"#ffffff","cornerRadius":3,"encode":{"symbols":{"update":{"shape":{"signal":"datum.value==='CBA'?'M-2.1,0H2.1M0,-0.35V0.35':'M-2.1,0H2.1'"},"strokeDash":{"signal":"datum.value==='CBA'?[2.5,1.5]:[1,0]"}}}}}}}}
]}}
],
"config":{
"font":"DejaVu Sans",
"view":{"stroke":"#000","strokeWidth":0.8},
"axis":{"grid":false,"domain":false,"tickColor":"#000","tickSize":3.5,"tickWidth":0.8,"labelFontSize":10,"labelColor":"#000","labelPadding":2,"labelFlush":false,"labelOverlap":false,"titleFontSize":10.5,"titleFontWeight":"normal","titleColor":"#000","titlePadding":2},
"axisX":{"labelPadding":1,"titlePadding":1},
"header":{"labelFont":"DejaVu Sans","labelFontSize":11.5,"labelColor":"#000","labelPadding":1,"titleFont":"DejaVu Sans","titleFontSize":10.5,"titleFontWeight":"normal","titleColor":"#000","titlePadding":4},
"title":{"font":"Liberation Serif","fontSize":17,"fontWeight":"bold","color":"#000","anchor":"middle"}
}
}
